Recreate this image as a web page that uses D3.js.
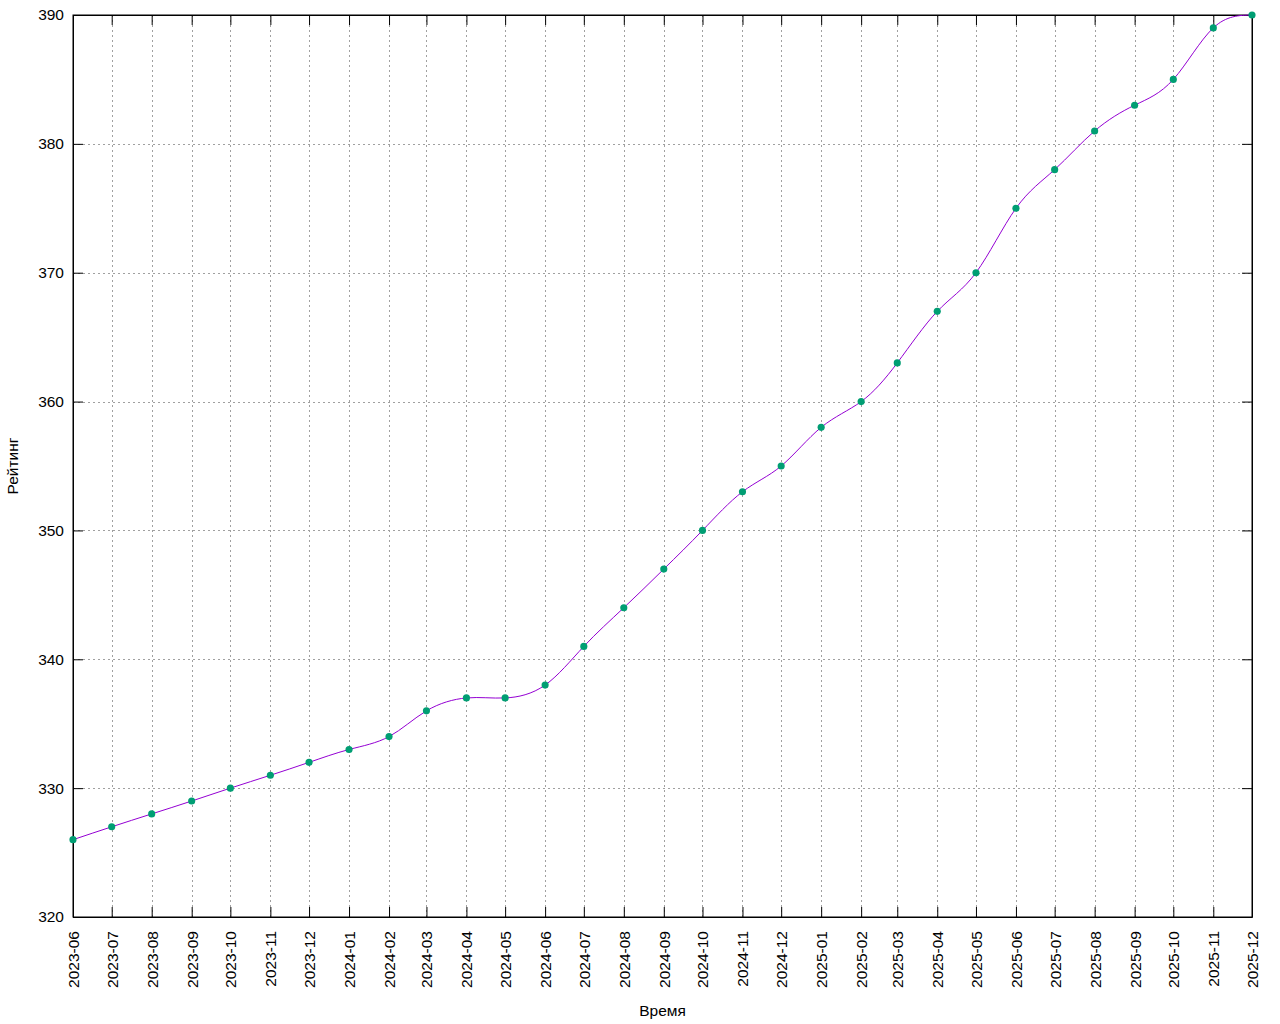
<!DOCTYPE html>
<html>
<head>
<meta charset="utf-8">
<script src="https://d3js.org/d3.v7.min.js"></script>
<style>
  body { margin: 0; background: #fff; }
  text { font-family: "Liberation Sans", Arial, sans-serif; font-size: 15.5px; fill: #000; }
</style>
</head>
<body>
<div id="chart"></div>
<script>
// monthly rating data
const months = [
  '2023-06','2023-07','2023-08','2023-09','2023-10','2023-11','2023-12',
  '2024-01','2024-02','2024-03','2024-04','2024-05','2024-06','2024-07',
  '2024-08','2024-09','2024-10','2024-11','2024-12','2025-01','2025-02',
  '2025-03','2025-04','2025-05','2025-06','2025-07','2025-08','2025-09',
  '2025-10','2025-11','2025-12'
];
const ratings = [
  326, 327, 328, 329, 330, 331, 332,
  333, 334, 336, 337, 337, 338, 341,
  344, 347, 350, 353, 355, 358, 360,
  363, 367, 370, 375, 378, 381, 383,
  385, 389, 390
];
const yTicks = [320, 330, 340, 350, 360, 370, 380, 390];

const width = 1280, height = 1024;
const margin = {top: 15, right: 28, bottom: 107, left: 73};
const innerW = width - margin.left - margin.right;
const innerH = height - margin.top - margin.bottom;

const parse = d3.utcParse('%Y-%m');
const data = months.map((m, i) => ({date: parse(m), value: ratings[i]}));

const svg = d3.select('#chart').append('svg')
  .attr('width', width)
  .attr('height', height);

const g = svg.append('g')
  .attr('transform', 'translate(' + margin.left + ',' + margin.top + ')');

const x = d3.scaleUtc()
  .domain([data[0].date, data[data.length - 1].date])
  .range([0, innerW]);

const y = d3.scaleLinear()
  .domain([320, 390])
  .range([innerH, 0]);

// grid
g.append('g').selectAll('line')
  .data(data.slice(1, -1))
  .enter().append('line')
    .attr('x1', d => Math.round(x(d.date)) + 0.5)
    .attr('x2', d => Math.round(x(d.date)) + 0.5)
    .attr('y1', 0)
    .attr('y2', innerH)
    .attr('stroke', '#a0a0a0')
    .attr('stroke-dasharray', '2,3');

g.append('g').selectAll('line')
  .data(yTicks.slice(1, -1))
  .enter().append('line')
    .attr('x1', 0)
    .attr('x2', innerW)
    .attr('y1', d => Math.round(y(d)) + 0.5)
    .attr('y2', d => Math.round(y(d)) + 0.5)
    .attr('stroke', '#a0a0a0')
    .attr('stroke-dasharray', '2,3');

// axes with inward ticks
const fmt = d3.utcFormat('%Y-%m');
const xAxis = g.append('g')
  .attr('transform', 'translate(0,' + innerH + ')')
  .call(d3.axisBottom(x).tickValues(data.map(d => d.date)).tickFormat(fmt).tickSizeInner(-10).tickSizeOuter(0));
xAxis.selectAll('text')
  .attr('transform', 'rotate(-90)')
  .attr('text-anchor', 'end')
  .attr('dx', '-14')
  .attr('dy', '0.35em')
  .attr('x', 0)
  .attr('y', 0);

g.append('g')
  .attr('transform', 'translate(0,0)')
  .call(d3.axisTop(x).tickValues(data.map(d => d.date)).tickFormat('').tickSizeInner(-10).tickSizeOuter(0));

g.append('g')
  .call(d3.axisLeft(y).tickValues(yTicks).tickSizeInner(-10).tickSizeOuter(0).tickPadding(9));

g.append('g')
  .attr('transform', 'translate(' + innerW + ',0)')
  .call(d3.axisRight(y).tickValues(yTicks).tickFormat('').tickSizeInner(-10).tickSizeOuter(0));

g.selectAll('.domain').attr('stroke', '#000');
g.selectAll('.tick line').attr('stroke', '#000');
g.selectAll('.tick text').style('font-size', '15.5px').style('font-family', '"Liberation Sans", Arial, sans-serif');

// border
g.append('rect')
  .attr('x', 0).attr('y', 0)
  .attr('width', innerW).attr('height', innerH)
  .attr('fill', 'none')
  .attr('stroke', '#000');

// smooth line
const line = d3.line()
  .x(d => x(d.date))
  .y(d => y(d.value))
  .curve(d3.curveNatural);

g.append('path')
  .datum(data)
  .attr('d', line)
  .attr('fill', 'none')
  .attr('stroke', '#9400d3')
  .attr('stroke-width', 1);

// points
g.selectAll('.pt')
  .data(data)
  .enter().append('path')
    .attr('class', 'pt')
    .attr('transform', d => 'translate(' + x(d.date) + ',' + y(d.value) + ')')
    .attr('d', d3.symbol().type(d3.symbolCircle).size(40))
    .attr('fill', '#009e73');

// axis labels
svg.append('text')
  .attr('x', margin.left + innerW / 2)
  .attr('y', 1016)
  .attr('text-anchor', 'middle')
  .text('Время');

svg.append('text')
  .attr('transform', 'translate(18,' + (margin.top + innerH / 2) + ') rotate(-90)')
  .attr('text-anchor', 'middle')
  .text('Рейтинг');
</script>
</body>
</html>
